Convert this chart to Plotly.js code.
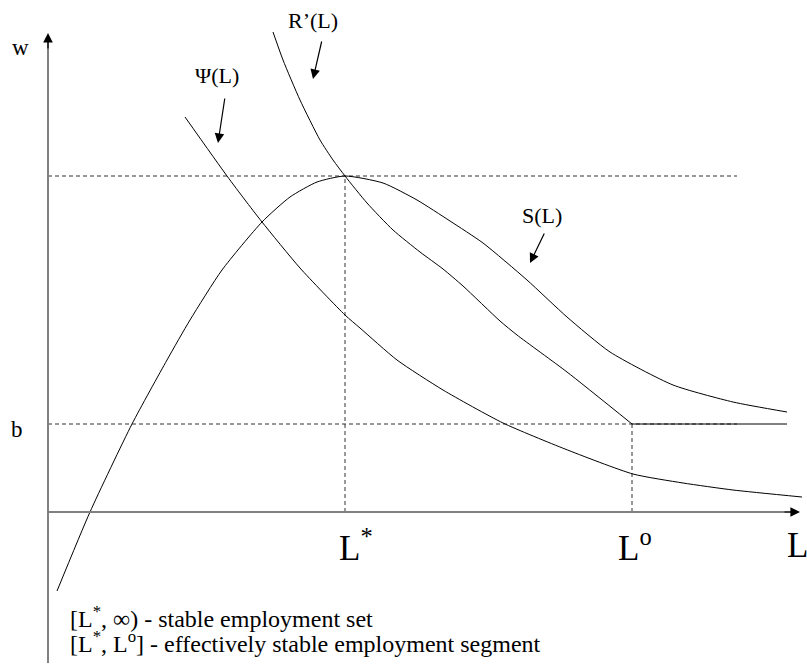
<!DOCTYPE html>
<html>
<head>
<meta charset="utf-8">
<script src="https://cdn.plot.ly/plotly-3.0.1.min.js"></script>
<style>html,body{margin:0;padding:0;background:#fff;}#chart{width:807px;height:667px;}</style>
</head>
<body>
<div id="chart"></div>
<script>
// Data (L along horizontal axis, w along vertical axis; origin at axes crossing)
const S_L   = [9, 42, 84, 119, 142, 174, 214, 242, 269, 297, 335, 369, 402, 435, 479, 519, 562, 625, 685, 739];
const S_w   = [-79, 0, 88, 152, 192, 242, 290, 315, 330, 336, 329, 312, 291, 269, 232, 195, 160, 127, 110, 100];
const Psi_L = [137, 179, 197, 214, 252, 297, 312, 349, 395, 455, 517, 585, 635, 685, 754];
const Psi_w = [395, 336, 312, 290, 244, 197, 184, 152, 122, 89, 63, 38, 29, 22, 15];
const R_L   = [225, 235, 252, 272, 285, 297, 319, 345, 372, 395, 415, 452, 469, 519, 584];
const R_w   = [480, 452, 412, 372, 352, 336, 309, 282, 260, 243, 226, 191, 177, 140, 88];
const Rflat_L = [584, 739];
const Rflat_w = [88, 88];
// Key levels
const Lstar = 297, Lo = 584, wstar = 336, bLevel = 88, dashEnd = 689;

const serif = "Liberation Serif";
const line = {color: '#000', width: 1, shape: 'spline', smoothing: 0.6};

const traces = [
  {x: S_L, y: S_w, mode: 'lines', line: line, hoverinfo: 'skip'},
  {x: Psi_L, y: Psi_w, mode: 'lines', line: line, hoverinfo: 'skip'},
  {x: R_L, y: R_w, mode: 'lines', line: line, hoverinfo: 'skip'},
  {x: Rflat_L, y: Rflat_w, mode: 'lines', line: {color: '#000', width: 1}, hoverinfo: 'skip'}
];

const dash = {color: '#333', width: 1, dash: '4px,3px'};
const axisLine = {color: '#808080', width: 2};
const shapes = [
  {type: 'line', xref: 'x', yref: 'y', x0: 0, y0: wstar, x1: dashEnd, y1: wstar, line: dash, layer: 'below'},
  {type: 'line', xref: 'x', yref: 'y', x0: 0, y0: bLevel, x1: dashEnd, y1: bLevel, line: dash, layer: 'below'},
  {type: 'line', xref: 'x', yref: 'y', x0: Lstar, y0: 0, x1: Lstar, y1: wstar, line: dash, layer: 'below'},
  {type: 'line', xref: 'x', yref: 'y', x0: Lo, y0: 0, x1: Lo, y1: bLevel, line: dash, layer: 'below'},
  {type: 'line', xref: 'x', yref: 'y', x0: 0, y0: -151, x1: 0, y1: 470, line: axisLine},
  {type: 'line', xref: 'x', yref: 'y', x0: 0, y0: 0, x1: 743, y1: 0, line: axisLine}
];

function txt(x, y, text, size, xanchor) {
  return {x: x, y: y, xref: 'x', yref: 'y', text: text, showarrow: false,
          xanchor: xanchor || 'center', yanchor: 'middle',
          font: {family: serif, size: size, color: '#000'}};
}
function arr(x, y, ax, ay, color, width, size) {
  return {x: x, y: y, ax: ax, ay: ay, xref: 'x', yref: 'y', axref: 'x', ayref: 'y',
          text: '', showarrow: true, arrowhead: 2, arrowsize: size || 1.6,
          arrowwidth: width || 1.2, arrowcolor: color || '#000', standoff: 0, startstandoff: 0};
}

const annotations = [
  txt(-28, 465, 'w', 23),
  txt(-31, 83, 'b', 23),
  txt(169, 437, 'Ψ(L)', 22),
  txt(265, 492, 'R’(L)', 22),
  txt(494, 297, 'S(L)', 22),
  txt(289, -33, 'L<sup>*</sup>', 35, 'left'),
  txt(568, -33, 'L<sup>o</sup>', 35, 'left'),
  txt(737, -33, 'L', 35, 'left'),
  txt(20, -105, '[L<sup>*</sup>, ∞) - stable employment set', 24, 'left'),
  txt(20, -130, '[L<sup>*</sup>, L<sup>o</sup>] - effectively stable employment segment', 24, 'left'),
  arr(170, 369, 177, 415),
  arr(265, 433, 274, 472),
  arr(482, 249, 497, 280),
  arr(0, 479, 0, 462, '#000', 1.2, 1.6),
  arr(752, 0, 735, 0, '#000', 1.2, 1.6)
];

const layout = {
  width: 807, height: 667,
  margin: {l: 0, r: 0, t: 0, b: 0},
  paper_bgcolor: '#fff', plot_bgcolor: '#fff',
  showlegend: false,
  xaxis: {range: [-48, 759], visible: false, fixedrange: true},
  yaxis: {range: [-155, 512], visible: false, fixedrange: true},
  shapes: shapes,
  annotations: annotations
};

Plotly.newPlot('chart', traces, layout, {staticPlot: true, displayModeBar: false});
</script>
</body>
</html>
